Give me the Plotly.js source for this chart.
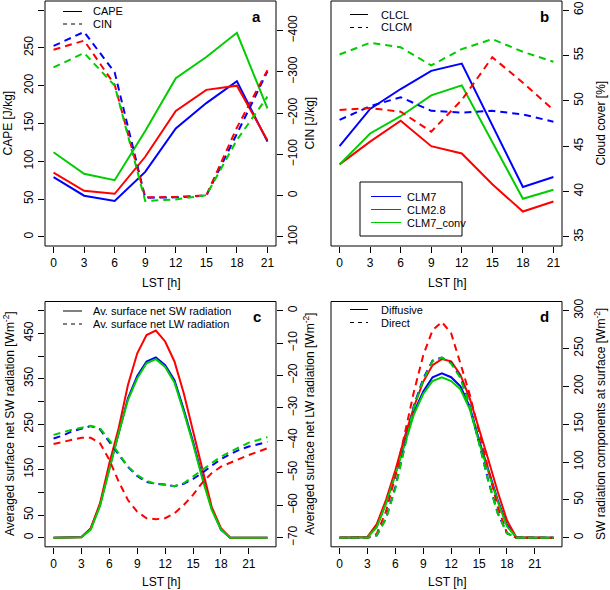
<!DOCTYPE html>
<html><head><meta charset="utf-8">
<script src="https://cdn.plot.ly/plotly-3.0.1.min.js"></script>
<style>html,body{margin:0;padding:0;background:#fff}#chart{width:610px;height:590px}</style>
</head><body><div id="chart"></div><script>
// ---------- data ----------
const models = ['CLM7', 'CLM2.8', 'CLM7_conv'];
const hours3 = [0, 3, 6, 9, 12, 15, 18, 21];
const hours1 = [0,1,2,3,4,5,6,7,8,9,10,11,12,13,14,15,16,17,18,19,20,21,22,23];
const xTickVals = [0, 3, 6, 9, 12, 15, 18, 21];

// panel a
const capeCLM7 = [79, 54.5, 47.5, 86, 143.5, 177, 206, 126];
const capeCLM28 = [85, 61, 57, 106, 166.5, 194.5, 200, 128];
const capeConv = [112, 83.5, 75, 140, 210, 238, 270, 170];
const cinCLM7 = [-363, -397, -299, 5, 4, 0, -150, -301];
const cinCLM28 = [-354, -376, -269, 4, 3, -1, -165, -304];
const cinConv = [-311, -346, -267, 13, 9, -1, -135, -240];

// panel b
const clclCLM7 = [45.0, 49.1, 51.3, 53.3, 54.1, 47.3, 40.5, 41.6];
const clclCLM28 = [43.0, 45.5, 47.8, 45.0, 44.2, 40.8, 37.8, 38.9];
const clclConv = [43.0, 46.4, 48.3, 50.6, 51.7, 45.4, 39.2, 40.2];
const clcmCLM7 = [47.9, 49.4, 50.4, 48.9, 48.7, 48.9, 48.5, 47.7];
const clcmCLM28 = [49.0, 49.2, 48.8, 46.6, 50.1, 54.8, 52.0, 49.0];
const clcmConv = [55.1, 56.4, 55.9, 53.9, 55.7, 56.8, 55.4, 54.3];

// panel c
const swCLM7 = [0,0,0,1.5,20,72,153,233,307,356,388,397,380,347,282,211,134,65,18,0,0,0,0,0];
const swCLM28 = [0,0,0,1,21,76,164,241,336,406,446,456,432,388,318,233,149,68,21,0,0,0,0,0];
const swConv = [0,0,0,1,18,70,150,230,303,351,384,393,376,342,277,207,130,62,18,0,0,0,0,0];
const lwCLM7 = [-39.4,-38.5,-37.2,-36.3,-35.6,-36.6,-40.4,-44.3,-48.2,-51.0,-52.8,-53.4,-53.6,-54.1,-53.4,-51.9,-50.0,-47.8,-45.8,-44.2,-42.9,-41.9,-41.2,-40.5];
const lwCLM28 = [-41.1,-40.4,-39.7,-39.2,-39.2,-40.9,-46.0,-52.7,-58.4,-62.0,-64.0,-64.3,-64.0,-62.5,-59.9,-56.8,-53.0,-50.1,-48.1,-46.9,-45.5,-44.5,-43.5,-42.4];
const lwConv = [-38.3,-37.4,-36.7,-36.1,-35.5,-36.3,-39.9,-44.0,-48.1,-50.7,-52.5,-53.4,-53.7,-54.1,-53.2,-51.2,-49.1,-47.1,-45.0,-43.5,-42.0,-40.7,-39.9,-39.0];

// panel d
const difCLM7 = [0,0,0,0.5,15,47,85,127,166,193,212,217,212,200,173,129,89,50,17,0.5,0,0,0,0];
const difCLM28 = [0,0,0,1,18,50,89,133,173,206,228,236,233,215,184,145,103,61,23,0.5,0,0,0,0];
const difConv = [0,0,0,0.5,14,45,83,124,163,190,207,212,207,196,170,126,86,48,15,0.5,0,0,0,0];
const dirCLM7 = [0,0,0,0,3,26,67,122,175,210,234,238,231,212,174,126,75,33,6,0,0,0,0,0];
const dirCLM28 = [0,0,0,0,5,35,81,138,193,241,274,285,270,230,189,140,89,41,6,0,0,0,0,0];
const dirConv = [0,0,0,0,3,25,65,120,173,208,233,238,230,211,173,125,74,32,6,0,0,0,0,0];

// tick labels
const capeTicks = [0, 50, 100, 150, 200, 250, 300];
const cinTicks = [100, 0, -100, -200, -300, -400];
const cloudTicks = [35, 40, 45, 50, 55, 60];
const swTicks = [0, 50, 150, 250, 350, 450];
const swMinorTicks = [100, 200, 300, 400, 500];
const lwTicks = [0, -10, -20, -30, -40, -50, -60, -70];
const compTicks = [0, 50, 100, 150, 200, 250, 300];

// ---------- styling ----------
const W = 610, H = 590;
const colors = ['#0000FF', '#FF0000', '#00CD00'];
const FONT = 'Liberation Sans, Arial, Helvetica, sans-serif';
const DASH = '7px,5px';
const fx = p => p / W;
const fy = p => 1 - p / H;

const traces = [];
function addSet(x, ys, xa, ya, dash, label) {
  ys.forEach((y, i) => traces.push({
    type: 'scatter', mode: 'lines', x: x, y: y, xaxis: xa, yaxis: ya,
    name: models[i] + ' ' + label, showlegend: false, hoverinfo: 'skip',
    line: {color: colors[i], width: 2, dash: dash}
  }));
}
addSet(hours3, [capeCLM7, capeCLM28, capeConv], 'x', 'y', 'solid', 'CAPE');
addSet(hours3, [cinCLM7, cinCLM28, cinConv], 'x', 'y2', DASH, 'CIN');
addSet(hours3, [clclCLM7, clclCLM28, clclConv], 'x2', 'y3', 'solid', 'CLCL');
addSet(hours3, [clcmCLM7, clcmCLM28, clcmConv], 'x2', 'y3', DASH, 'CLCM');
addSet(hours1, [swCLM7, swCLM28, swConv], 'x3', 'y4', 'solid', 'SW');
addSet(hours1, [lwCLM7, lwCLM28, lwConv], 'x3', 'y5', DASH, 'LW');
addSet(hours1, [difCLM7, difCLM28, difConv], 'x4', 'y6', 'solid', 'Diffusive');
addSet(hours1, [dirCLM7, dirCLM28, dirConv], 'x4', 'y6', DASH, 'Direct');

const tickBase = {
  ticks: 'outside', ticklen: 6, tickwidth: 1, tickcolor: '#000',
  showgrid: false, zeroline: false, showline: false,
  tickfont: {family: FONT, size: 12, color: '#000'}, fixedrange: true
};
const xBase = Object.assign({}, tickBase, {tickmode: 'array', tickvals: xTickVals});
const yBase = Object.assign({}, tickBase, {tickangle: -90, tickmode: 'array'});

const colL = [fx(45), fx(276)], colR = [fx(331), fx(562)];
const rowT = [fy(246), fy(1)], rowB = [fy(546.8), fy(301.5)];

const layout = {
  width: W, height: H, margin: {l: 0, r: 0, t: 0, b: 0},
  paper_bgcolor: '#fff', plot_bgcolor: '#fff', showlegend: false,
  font: {family: FONT, size: 12, color: '#000'},
  xaxis: Object.assign({}, xBase, {domain: colL, anchor: 'y', range: [-0.84, 21.84]}),
  yaxis: Object.assign({}, yBase, {domain: rowT, anchor: 'x', range: [-12, 312], tickvals: capeTicks}),
  yaxis2: Object.assign({}, yBase, {overlaying: 'y', anchor: 'x', side: 'right', range: [122, -472], tickvals: cinTicks}),
  xaxis2: Object.assign({}, xBase, {domain: colR, anchor: 'y3', range: [-0.84, 21.84]}),
  yaxis3: Object.assign({}, yBase, {domain: rowT, anchor: 'x2', side: 'right', range: [34, 61], tickvals: cloudTicks}),
  xaxis3: Object.assign({}, xBase, {domain: colL, anchor: 'y4', range: [-0.92, 23.92]}),
  yaxis4: Object.assign({}, yBase, {domain: rowB, anchor: 'x3', range: [-20, 520], tickvals: swTicks,
    minor: {tickmode: 'array', tickvals: swMinorTicks, ticks: 'outside', ticklen: 6, tickwidth: 1, tickcolor: '#000', showgrid: false}}),
  yaxis5: Object.assign({}, yBase, {overlaying: 'y4', anchor: 'x3', side: 'right', range: [-72.8, 2.8], tickvals: lwTicks}),
  xaxis4: Object.assign({}, xBase, {domain: colR, anchor: 'y6', range: [-0.92, 23.92]}),
  yaxis6: Object.assign({}, yBase, {domain: rowB, anchor: 'x4', side: 'right', range: [-12, 312], tickvals: compTicks}),
  shapes: [], annotations: []
};

// boxes
[['x', 'y'], ['x2', 'y3'], ['x3', 'y4'], ['x4', 'y6']].forEach(([xa, ya]) => {
  layout.shapes.push({type: 'rect', xref: xa + ' domain', yref: ya + ' domain', x0: 0, x1: 1, y0: 0, y1: 1,
    line: {color: '#000', width: 1}, layer: 'above'});
});

function ann(text, px, py, opts) {
  layout.annotations.push(Object.assign({
    text: text, xref: 'paper', yref: 'paper', x: fx(px), y: fy(py), showarrow: false,
    xanchor: 'center', yanchor: 'middle', borderpad: 0, font: {family: FONT, size: 12, color: '#000'}
  }, opts || {}));
}
// axis titles
ann('LST [h]', 160.5, 283);
ann('LST [h]', 446.5, 283);
ann('LST [h]', 160.5, 581.5);
ann('LST [h]', 446.5, 581.5);
ann('CAPE [J/kg]', 8, 123.5, {textangle: -90});
ann('CIN [J/kg]', 310, 123.5, {textangle: -90});
ann('Cloud cover [%]', 601, 123.5, {textangle: -90});
ann('Averaged surface net SW radiation [Wm<sup>-2</sup>]', 9, 424, {textangle: -90});
ann('Averaged surface net LW radiation [Wm<sup>-2</sup>]', 309, 424, {textangle: -90});
ann('SW radiation components at surface [Wm<sup>-2</sup>]', 600, 424, {textangle: -90});
// panel letters
const bold = {font: {family: FONT, size: 15, color: '#000', weight: 'bold'}};
ann('<b>a</b>', 256.5, 16, bold);
ann('<b>b</b>', 544, 16, bold);
ann('<b>c</b>', 256.5, 316.5, bold);
ann('<b>d</b>', 544, 316.5, bold);

// black line-type legends
const legFont = {font: {family: FONT, size: 11, color: '#000'}, xanchor: 'left'};
function legLine(x0, x1, y, color, dash, width) {
  layout.shapes.push({type: 'line', xref: 'paper', yref: 'paper', x0: fx(x0), x1: fx(x1), y0: fy(y), y1: fy(y),
    line: {color: color, width: width || 1, dash: dash}});
}
function typeLegend(x0, x1, tx, y1, y2, t1, t2) {
  legLine(x0, x1, y1, '#000', 'solid');
  legLine(x0, x1, y2, '#000', '4px,4px');
  ann(t1, tx, y1, legFont);
  ann(t2, tx, y2, legFont);
}
typeLegend(63, 82, 92, 11.5, 24, 'CAPE', 'CIN');
typeLegend(350, 368, 380, 14.5, 27.5, 'CLCL', 'CLCM');
typeLegend(63, 82, 92, 311, 324, 'Av. surface net SW radiation', 'Av. surface net LW radiation');
typeLegend(350, 368, 380, 309.5, 322.5, 'Diffusive', 'Direct');

// model colour legend (panel b)
layout.shapes.push({type: 'rect', xref: 'paper', yref: 'paper', x0: fx(360), x1: fx(462), y0: fy(236), y1: fy(182),
  line: {color: '#000', width: 1}, fillcolor: '#fff'});
const rowsY = [196.5, 209.5, 222.5];
models.forEach((m, i) => {
  legLine(371, 401, rowsY[i], colors[i], 'solid', 1);
  ann(m, 406, rowsY[i], legFont);
});

Plotly.newPlot('chart', traces, layout, {staticPlot: true, displayModeBar: false});
</script></body></html>
